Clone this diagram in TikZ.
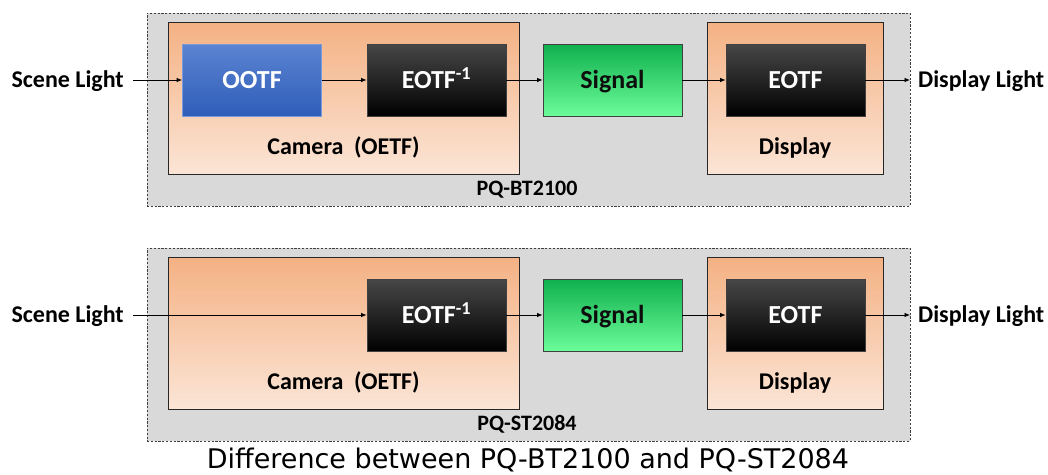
\documentclass[tikz,border=0pt]{standalone}
\usepackage{fontspec}
\setmainfont{Carlito}
\newfontfamily\capfont{DejaVu Sans}
\usetikzlibrary{arrows.meta}
\definecolor{panelgray}{HTML}{D9D9D9}
\definecolor{orangetop}{HTML}{F4B183}
\definecolor{orangemid}{HTML}{F6C19C}
\definecolor{orangebot}{HTML}{FBE5D6}
\definecolor{bluetop}{HTML}{5B84D2}
\definecolor{bluemid}{HTML}{4472C4}
\definecolor{bluebot}{HTML}{2F5DB8}
\definecolor{blueedge}{HTML}{7A9BDA}
\definecolor{greentop}{HTML}{10B04E}
\definecolor{greenmid}{HTML}{3BD673}
\definecolor{greenbot}{HTML}{6CFC9A}
\definecolor{darkedge}{HTML}{404040}
\tikzset{
  panel/.style={draw=darkedge, fill=panelgray, line width=0.7pt, dash pattern=on 2.2pt off 1.6pt, inner sep=0pt},
  unitbox/.style={draw=black!85, line width=0.9pt, top color=orangetop, middle color=orangemid, bottom color=orangebot, inner sep=0pt},
  blockbase/.style={minimum width=139pt, minimum height=72pt, inner sep=0pt, line width=0.8pt, text height=16.7pt, text depth=0pt, font=\fontsize{26}{30}\selectfont\bfseries},
  bluebox/.style={blockbase, draw=blueedge, top color=bluetop, middle color=bluemid, bottom color=bluebot, text=white},
  blackbox/.style={blockbase, draw=darkedge, top color=black!72, middle color=black, bottom color=black, text=white},
  greenbox/.style={blockbase, draw=darkedge, top color=greentop, middle color=greenmid, bottom color=greenbot, text=black!95},
  lbl/.style={inner sep=0pt, text height=15.5pt, text depth=0pt, font=\fontsize{24}{28}\selectfont\bfseries},
  plbl/.style={inner sep=0pt, text height=14.2pt, text depth=0pt, font=\fontsize{22}{26}\selectfont\bfseries},
  conn/.style={-{Latex[length=5.5pt,width=4.5pt]}, line width=0.8pt},
}
\begin{document}
\begin{tikzpicture}[x=1pt,y=-1pt]
\useasboundingbox (0,0) rectangle (1048,474);
\fill[white] (0,0) rectangle (1048,474);
% ---------- top panel ----------
\node[panel, minimum width=763pt, minimum height=193pt] (gA) at (528.5,109.5) {};
\node[unitbox, minimum width=351pt, minimum height=152pt] (camA) at (343.5,98) {};
\node[unitbox, minimum width=176pt, minimum height=152pt] (dispA) at (795,98) {};
\node[bluebox] (ootfA) at (252,80) {OOTF};
\node[blackbox] (invA) at (436.5,80) {EOTF\textsuperscript{-1}};
\node[greenbox] (sigA) at (612.5,80) {Signal};
\node[blackbox] (eotfA) at (795.5,80) {EOTF};
\node[lbl] (camlA) at (343.5,147) {Camera\ \ (OETF)};
\node[lbl] (displA) at (795,147) {Display};
\node[plbl] (pqA) at (527,188) {PQ-BT2100};
\node[lbl, anchor=east] (sceneA) at (124,80) {Scene Light};
\node[lbl, anchor=west] (outA) at (918,80) {Display Light};
\draw[conn, shorten <=9pt] (sceneA.east) -- (ootfA.west);
\draw[conn] (ootfA.east) -- (invA.west);
\draw[conn] (invA.east) -- (sigA.west);
\draw[conn] (sigA.east) -- (eotfA.west);
\draw[conn, shorten >=8pt] (eotfA.east) -- (outA.west);
% ---------- bottom panel ----------
\node[panel, minimum width=763pt, minimum height=193pt] (gB) at (528.5,344.5) {};
\node[unitbox, minimum width=351pt, minimum height=152pt] (camB) at (343.5,333) {};
\node[unitbox, minimum width=176pt, minimum height=152pt] (dispB) at (795,333) {};
\node[blackbox] (invB) at (436.5,315) {EOTF\textsuperscript{-1}};
\node[greenbox] (sigB) at (612.5,315) {Signal};
\node[blackbox] (eotfB) at (795.5,315) {EOTF};
\node[lbl] (camlB) at (343.5,382) {Camera\ \ (OETF)};
\node[lbl] (displB) at (795,382) {Display};
\node[plbl] (pqB) at (527,423) {PQ-ST2084};
\node[lbl, anchor=east] (sceneB) at (124,315) {Scene Light};
\node[lbl, anchor=west] (outB) at (918,315) {Display Light};
\draw[conn, shorten <=9pt] (sceneB.east) -- (invB.west);
\draw[conn] (invB.east) -- (sigB.west);
\draw[conn] (sigB.east) -- (eotfB.west);
\draw[conn, shorten >=8pt] (eotfB.east) -- (outB.west);
% ---------- caption ----------
\node[inner sep=0pt, font=\capfont\fontsize{27}{31}\selectfont] (cap) at (528,460) {Difference between PQ-BT2100 and PQ-ST2084};
\end{tikzpicture}
\end{document}
